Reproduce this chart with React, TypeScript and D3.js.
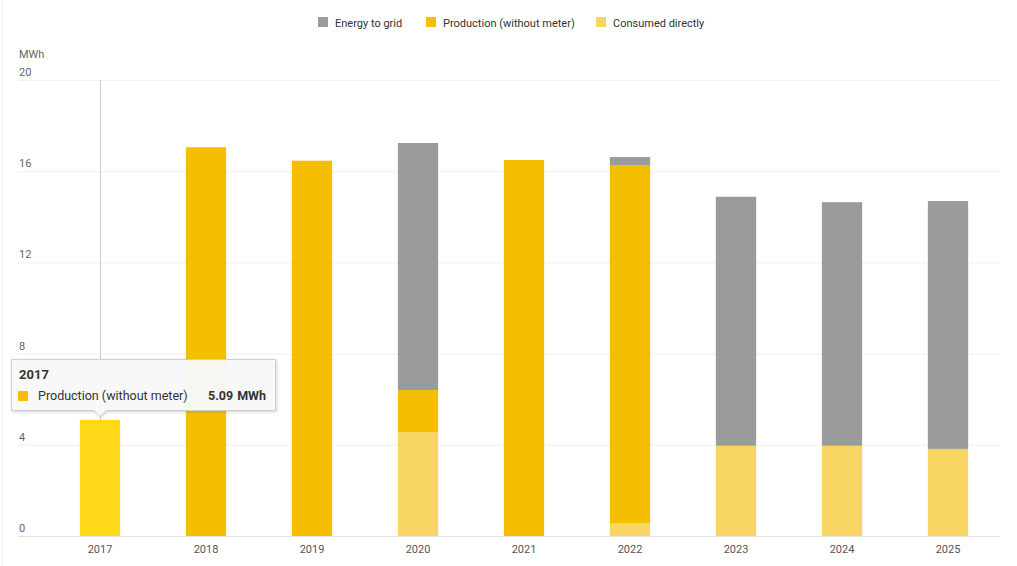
import * as d3 from "d3";
import React from "react";

const years = ["2017", "2018", "2019", "2020", "2021", "2022", "2023", "2024", "2025"];
const consumedDirectly = [0, 0, 0, 4.55, 0, 0.56, 3.96, 3.96, 3.82];
const production = [5.09, 17.05, 16.46, 1.85, 16.49, 15.71, 0, 0, 0];
const energyToGrid = [0, 0, 0, 10.84, 0, 0.35, 10.92, 10.68, 10.87];
const yTicks = [0, 4, 8, 12, 16, 20];

const W = 1017
const H = 566
const font = "Roboto, 'Noto Sans', sans-serif"

const series = [
  { key: "consumed", label: "Consumed directly", color: "#F9D663" },
  { key: "production", label: "Production (without meter)", color: "#F5BF00" },
  { key: "grid", label: "Energy to grid", color: "#9B9B9B" },
]
const legendOrder = ["grid", "production", "consumed"]
const legendX = [318, 426, 596]

const hoverIndex = 0
const hoverColor = "#FFD817"

export function App() {
  const rows = years.map((year, i) => ({
    year,
    consumed: consumedDirectly[i],
    production: production[i],
    grid: energyToGrid[i],
  }))

  const x = d3.scaleBand<string>()
    .domain(years)
    .range([47, 1001])
    .paddingInner(0.62)
    .paddingOuter(0.31)

  const y = d3.scaleLinear().domain([0, 20]).range([536, 80])

  const stacked = d3.stack<any>().keys(series.map(s => s.key))(rows)

  const hx = (x(years[hoverIndex]) as number) + x.bandwidth() / 2
  const hTop = y(production[hoverIndex] + consumedDirectly[hoverIndex] + energyToGrid[hoverIndex])

  return (
    <div style={{ position: "fixed", left: 0, top: 0, width: W, height: H, background: "#fff" }}>
      <svg width={W} height={H} style={{ display: "block", fontFamily: font }}>
        <defs>
          <filter id="shadow" x="-10%" y="-30%" width="120%" height="160%">
            <feDropShadow dx="1" dy="1" stdDeviation="1.5" floodColor="#000" floodOpacity="0.18" />
          </filter>
        </defs>
        <line x1={2.5} x2={2.5} y1={0} y2={H} stroke="#eeeeee" />

        {/* legend */}
        {legendOrder.map((k, i) => {
          const s = series.find(d => d.key === k)!
          return (
            <g key={k} transform={`translate(${legendX[i]}, 17)`}>
              <rect width={10} height={10} fill={s.color} />
              <text x={17} y={9.5} fontSize={11} fill="#333">{s.label}</text>
            </g>
          )
        })}

        {/* y axis */}
        <text x={19} y={58} fontSize={11} fill="#666">MWh</text>
        {yTicks.map(t => (
          <g key={t}>
            <line x1={18} x2={1000} y1={y(t) + 0.5} y2={y(t) + 0.5} stroke={t === 0 ? "#e2e2e2" : "#eeeeee"} />
            <text x={19} y={y(t) - 4} fontSize={11} fill="#666">{t}</text>
          </g>
        ))}

        {/* x axis */}
        {years.map(yr => (
          <text key={yr} x={(x(yr) as number) + x.bandwidth() / 2} y={553} fontSize={11} fill="#555" textAnchor="middle">{yr}</text>
        ))}

        {/* crosshair */}
        <line x1={hx + 0.5} x2={hx + 0.5} y1={80} y2={hTop} stroke="#cccccc" />

        {/* bars */}
        {stacked.map((layer, li) => (
          <g key={layer.key}>
            {layer.map((d, i) => {
              const h = y(d[0]) - y(d[1])
              if (h <= 0) return null
              const fill = i === hoverIndex ? hoverColor : series[li].color
              return (
                <rect key={i} x={x(years[i])} y={y(d[1])} width={x.bandwidth()} height={h} fill={fill} />
              )
            })}
          </g>
        ))}

        {/* tooltip */}
        <g filter="url(#shadow)">
          <path
            d={`M11.5,359.5 H275.5 V410.5 H${hx + 6} L${hx},416.5 L${hx - 6},410.5 H11.5 Z`}
            fill="#f9f9f9"
            fillOpacity={0.96}
            stroke="#cfcfcf"
          />
        </g>
        <text x={19} y={379} fontSize={13} fontWeight="bold" fill="#333">{years[hoverIndex]}</text>
        <rect x={18} y={391} width={10} height={10} fill={series[1].color} />
        <text x={38} y={400} fontSize={12.5} fill="#333">{series[1].label}</text>
        <text x={208} y={400} fontSize={12.5} fontWeight="bold" fill="#333">
          {production[hoverIndex].toFixed(2)}<tspan dx={4}>MWh</tspan>
        </text>
      </svg>
    </div>
  );
}

export default App;
